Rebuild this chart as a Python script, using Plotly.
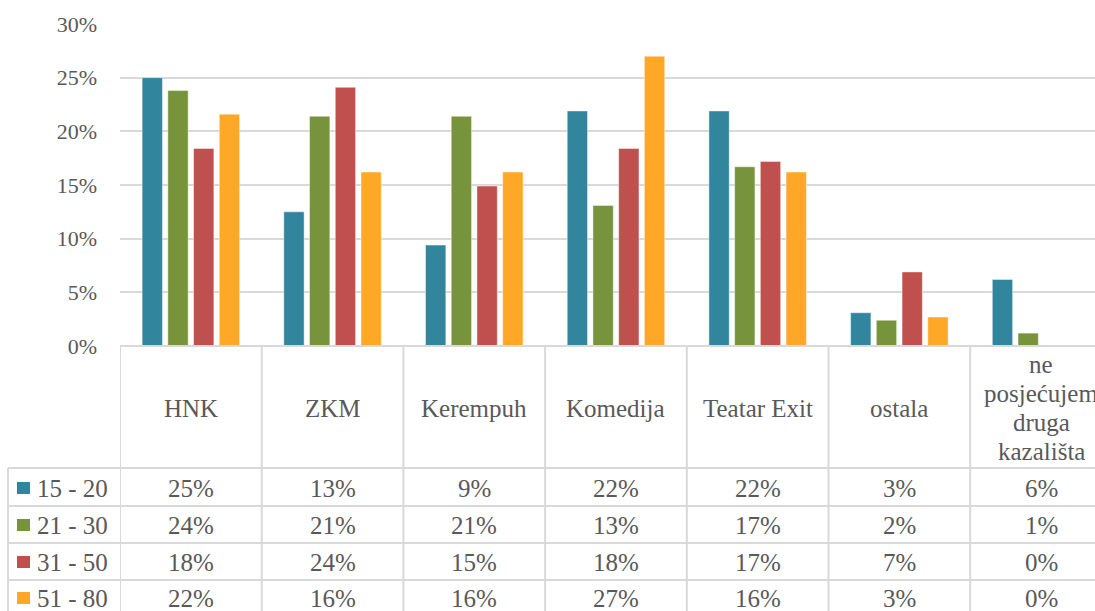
import math
import plotly.graph_objects as go

categories = ["HNK", "ZKM", "Kerempuh", "Komedija", "Teatar Exit", "ostala",
              "ne<br>posjećujem<br>druga<br>kazališta"]
series_names = ["15 - 20", "21 - 30", "31 - 50", "51 - 80"]
s15_20 = [0.250, 0.125, 0.094, 0.219, 0.219, 0.031, 0.062]
s21_30 = [0.238, 0.214, 0.214, 0.131, 0.167, 0.024, 0.012]
s31_50 = [0.184, 0.241, 0.149, 0.184, 0.172, 0.069, 0.0]
s51_80 = [0.216, 0.162, 0.162, 0.270, 0.162, 0.027, 0.0]
y_ticks = [0, 0.05, 0.10, 0.15, 0.20, 0.25, 0.30]

series_values = [s15_20, s21_30, s31_50, s51_80]
colors = ["#31859C", "#77933C", "#C0504D", "#FFA726"]

FONT = "Liberation Serif, Times New Roman, serif"
TXT = "#595959"
GRID = "#d9d9d9"
TFS = 25   # table font size
AFS = 22   # axis font size

W, H = 1095, 611
L, T, B = 120, 24, 346          # plot area left / top / bottom in px
PW, PH = W - L, B - T
CATW = 141.7                     # category width in px


def px(x):
    return (x - L) / PW


def py(y):
    return (B - y) / PH


x_idx = list(range(len(categories)))
fig = go.Figure()
for name, vals, col in zip(series_names, series_values, colors):
    fig.add_trace(go.Bar(
        x=x_idx, y=vals, name=name,
        marker=dict(color=col, line=dict(color="rgba(255,255,255,0.45)", width=1)),
        showlegend=False, hoverinfo="skip",
    ))

x_max = -0.5 + PW / CATW

shapes = []
annotations = []
line_style = dict(color=GRID, width=2)

# vertical table lines (category boundaries)
for k in range(len(categories) + 1):
    shapes.append(dict(type="line", xref="x", yref="paper",
                       x0=k - 0.5, x1=k - 0.5, y0=py(346), y1=py(620),
                       line=line_style, layer="above"))
# horizontal table lines
shapes.append(dict(type="line", xref="paper", yref="paper",
                   x0=px(120), x1=px(1120), y0=py(346), y1=py(346), line=line_style))
for yy in [468, 506, 543, 580]:
    shapes.append(dict(type="line", xref="paper", yref="paper",
                       x0=px(8), x1=px(1120), y0=py(yy), y1=py(yy), line=line_style))
shapes.append(dict(type="line", xref="paper", yref="paper",
                   x0=px(8), x1=px(8), y0=py(468), y1=py(620), line=line_style))

# category header texts (multi-line labels drawn line by line for tighter spacing)
LINE_H = 29.3
for i, c in enumerate(categories):
    parts = c.split("<br>")
    n = len(parts)
    for j, part in enumerate(parts):
        yc = 408 + (j - (n - 1) / 2) * LINE_H
        annotations.append(dict(xref="x", yref="paper", x=i, y=py(yc), text=part,
                                showarrow=False, xanchor="center", yanchor="middle",
                                font=dict(family=FONT, size=TFS, color=TXT)))

row_centers = [488, 525, 562, 598]
for r, (name, vals, col) in enumerate(zip(series_names, series_values, colors)):
    yc = row_centers[r]
    shapes.append(dict(type="rect", xref="paper", yref="paper",
                       x0=px(17), x1=px(30), y0=py(yc - 6), y1=py(yc + 6),
                       fillcolor=col, line=dict(width=0)))
    annotations.append(dict(xref="paper", yref="paper", x=px(35), y=py(yc), text=name,
                            showarrow=False, xanchor="left", yanchor="middle",
                            font=dict(family=FONT, size=TFS, color=TXT)))
    for i, v in enumerate(vals):
        lab = f"{math.floor(v * 100 + 0.5 + 1e-9)}%"
        annotations.append(dict(xref="x", yref="paper", x=i, y=py(yc), text=lab,
                                showarrow=False, xanchor="center", yanchor="middle",
                                font=dict(family=FONT, size=TFS, color=TXT)))

fig.update_layout(
    width=W, height=H,
    margin=dict(l=L, r=0, t=T, b=H - B, pad=0),
    paper_bgcolor="white", plot_bgcolor="white",
    barmode="group", bargap=0.274, bargroupgap=0.21,
    shapes=shapes, annotations=annotations,
    font=dict(family=FONT, size=AFS, color=TXT),
    xaxis=dict(range=[-0.5, x_max], showticklabels=False, showgrid=False,
               zeroline=False, showline=False, ticks=""),
    yaxis=dict(range=[0, 0.3], tickvals=y_ticks, tickformat=".0%",
               showgrid=True, gridcolor=GRID, gridwidth=1.5,
               zeroline=False, showline=False, ticks="",
               ticklabelstandoff=22,
               tickfont=dict(family=FONT, size=AFS, color=TXT)),
)

fig.write_html("out.html", config={"displayModeBar": False},
               post_script="document.body.style.margin='0';document.body.style.overflow='hidden';")
